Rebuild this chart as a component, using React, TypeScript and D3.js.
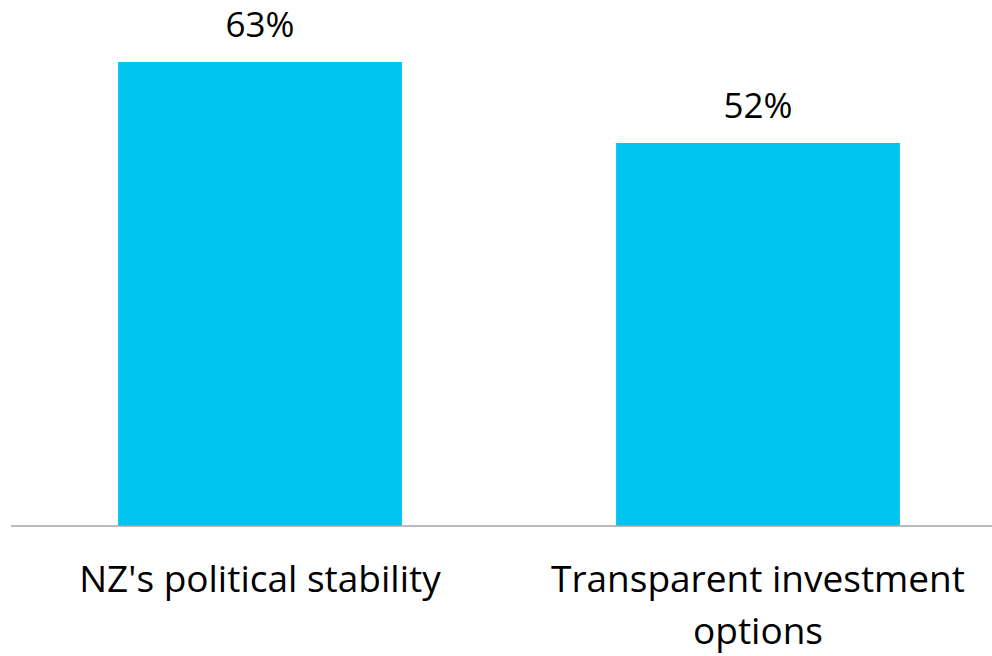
import React from "react";
import * as d3 from "d3";

const categories = ["NZ's political stability", "Transparent investment options"];
const categoryLines = [["NZ's political stability"], ["Transparent investment", "options"]];
const values = [63, 52];
const valueLabels = ["63%", "52%"];

const W = 992;
const H = 656;

export default function App() {
  const x = d3.scaleBand<string>().domain(categories).range([11, 1007]).paddingInner(0.43).paddingOuter(0.215);
  const y = d3.scaleLinear().domain([0, 70]).range([526, 10.4]);
  const font = "'Open Sans', sans-serif";
  return (
    <svg width={W} height={H} style={{ position: "absolute", left: 0, top: 0, background: "#fff" }}>
      {categories.map((c, i) => (
        <rect key={c} x={x(c)} y={y(values[i])} width={x.bandwidth()} height={y(0) - y(values[i])} fill="#00C5F0" />
      ))}
      <line x1={11} x2={W} y1={y(0)} y2={y(0)} stroke="#A6A6A6" strokeWidth={1.5} />
      {categories.map((c, i) => (
        <text key={c + "v"} x={(x(c) as number) + x.bandwidth() / 2} y={y(values[i]) - 25} textAnchor="middle"
          fontFamily={font} fontSize={35} fill="#000">{valueLabels[i]}</text>
      ))}
      {categories.map((c, i) => (
        <text key={c + "l"} textAnchor="middle" fontFamily={font} fontSize={37} fill="#000">
          {categoryLines[i].map((ln, j) => (
            <tspan key={j} x={(x(c) as number) + x.bandwidth() / 2} y={592 + j * 52}>{ln}</tspan>
          ))}
        </text>
      ))}
    </svg>
  );
}
